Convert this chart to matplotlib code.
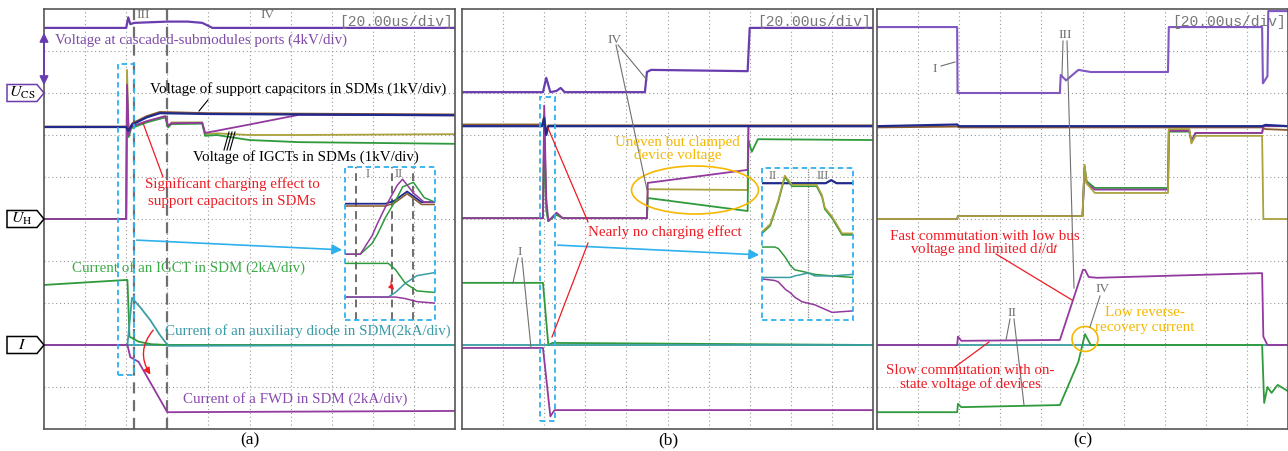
import matplotlib
matplotlib.use("Agg")
import matplotlib.pyplot as plt
from matplotlib.patches import Polygon, Rectangle, Ellipse, FancyArrowPatch
from matplotlib.lines import Line2D

plt.rcParams['font.family'] = ['Liberation Serif', 'DejaVu Serif']
plt.rcParams['mathtext.fontset'] = 'stix'

# colours
PORT = "#6a3daf"
PURPLE = "#93399f"
GREEN = "#2f9a3c"
OLIVE = "#aaa23c"
TEAL = "#3a9ea2"
NAVY = "#1f2a8c"
BROWN = "#8b5a2b"
CYAN = "#2fb0ee"
RED = "#ee1c24"
ORANGE = "#f5b800"
GRAY = "#707070"

# ---------------- data (in divisions, 10 x 10 screen) ----------------
# panel (a)
A_PORT_T = [0, 2.0, 2.05, 2.1, 2.2, 3.0, 3.5, 3.85, 4.1, 10]
A_PORT_V = [9.55, 9.55, 9.8, 9.64, 9.67, 9.7, 9.7, 9.67, 9.55, 9.55]

A_CAP_T = [0, 2.0, 2.05, 2.15, 2.5, 2.82, 4.0, 10]
A_CAP_NAVY = [7.19, 7.19, 7.1, 7.25, 7.42, 7.52, 7.5, 7.47]
A_CAP_BROWN = [7.2, 7.2, 7.12, 7.28, 7.45, 7.55, 7.52, 7.49]

A_VG_T = [0, 2.0, 2.02, 2.06, 2.12, 2.5, 2.95, 3.02, 3.1, 3.85, 3.92, 4.2, 5.0, 6.2, 10]
A_VG_PURPLE = [5.0, 5.0, 8.2, 7.0, 7.2, 7.33, 7.45, 7.22, 7.28, 7.29, 7.05, 7.1, 7.25, 7.48, 7.47]
A_VG_OLIVE = [5.0, 5.0, 8.55, 7.0, 7.18, 7.32, 7.44, 7.2, 7.3, 7.3, 7.02, 7.04, 7.0, 7.0, 7.02]
A_VG_GREEN = [5.0, 5.0, 8.0, 6.95, 7.16, 7.3, 7.42, 7.18, 7.26, 7.27, 6.98, 7.0, 6.88, 6.83, 6.79]

A_IG_T = [0, 2.03, 2.08, 2.3, 2.6, 3.0, 10]
A_IG_V = [3.43, 3.55, 2.2, 2.08, 2.02, 2.0, 2.0]
A_AUX_T = [0, 2.03, 2.14, 2.34, 2.58, 2.82, 3.02, 10]
A_AUX_V = [2.0, 2.0, 3.12, 2.9, 2.6, 2.24, 1.98, 2.0]
A_FWD_T = [0, 2.03, 2.1, 2.3, 3.0, 10]
A_FWD_V = [2.0, 2.0, 1.71, 1.6, 0.4, 0.43]

# inset (a), normalised 0..1
IA_CAP_T = [0, 0.45, 0.55, 0.69, 0.85, 1.0]
IA_CAP_V = [0.76, 0.76, 0.78, 0.84, 0.77, 0.77]
IA_VG_T = [0, 0.17, 0.3, 0.36, 0.45, 0.58, 0.64, 0.76, 0.88, 1.0]
IA_VG_PURPLE = [0.43, 0.43, 0.55, 0.63, 0.74, 0.88, 0.92, 0.83, 0.77, 0.77]
IA_VG_GREEN = [0.43, 0.43, 0.5, 0.56, 0.67, 0.8, 0.87, 0.9, 0.8, 0.77]
IA_I_T = [0, 0.48, 0.56, 0.67, 0.8, 1.0]
IA_I_GREEN = [0.37, 0.37, 0.33, 0.24, 0.19, 0.18]
IA_I_TEAL = [0.15, 0.15, 0.18, 0.24, 0.29, 0.31]
IA_I_PURPLE = [0.15, 0.15, 0.15, 0.14, 0.12, 0.11]

# panel (b)
B_PORT_T = [0, 1.97, 2.05, 2.15, 2.3, 2.4, 2.5, 4.45, 4.5, 4.6, 6.95, 7.0, 10]
B_PORT_V = [8.02, 8.02, 8.36, 8.02, 8.05, 8.12, 8.02, 8.02, 8.5, 8.55, 8.52, 9.55, 9.55]
B_CAP_T = [0, 1.95, 2.0, 2.05, 2.1, 10]
B_CAP_NAVY = [7.21, 7.21, 7.4, 7.0, 7.21, 7.21]
B_CAP_BROWN = [7.25, 7.25, 7.45, 7.05, 7.23, 7.23]
B_VG_T = [0, 1.97, 2.0, 2.05, 2.1, 2.3, 2.45, 4.5, 4.52, 6.95, 6.97, 7.05, 7.2, 10]
B_VG_PURPLE = [5.02, 5.02, 7.7, 5.5, 4.95, 5.15, 5.02, 5.02, 5.86, 6.17, 7.21, 7.21, 7.21, 7.21]
B_VG_OLIVE = [5.02, 5.02, 7.3, 5.3, 4.95, 5.12, 5.02, 5.02, 5.71, 5.69, 7.21, 7.21, 7.21, 7.21]
B_VG_GREEN = [5.02, 5.02, 7.0, 5.2, 4.95, 5.1, 5.02, 5.02, 5.5, 5.19, 6.88, 6.6, 6.9, 6.88]
B_IG_T = [0, 1.97, 2.1, 2.2, 10]
B_IG_V = [3.48, 3.48, 2.0, 2.05, 2.0]
B_FWD_T = [0, 1.97, 2.15, 2.25, 10]
B_FWD_V = [1.93, 1.93, 0.3, 0.45, 0.45]

# inset (b), normalised 0..1
IB_CAP_T = [0, 0.7, 0.76, 0.82, 1.0]
IB_CAP_V = [0.9, 0.9, 0.92, 0.9, 0.9]
IB_VG_T = [0, 0.09, 0.18, 0.25, 0.33, 0.6, 0.66, 0.69, 0.77, 0.88, 1.0]
IB_VG_V = [0.58, 0.63, 0.79, 0.95, 0.89, 0.89, 0.82, 0.74, 0.68, 0.57, 0.57]
IB_I_T = [0, 0.14, 0.18, 0.26, 0.31, 0.36, 0.44, 0.51, 0.58, 0.77, 1.0]
IB_I_GREEN = [0.48, 0.48, 0.47, 0.41, 0.36, 0.33, 0.32, 0.31, 0.3, 0.29, 0.28]
IB_I_TEAL = [0.28, 0.28, 0.28, 0.28, 0.28, 0.29, 0.3, 0.31, 0.29, 0.29, 0.3]
IB_I_PURPLE = [0.27, 0.26, 0.25, 0.2, 0.18, 0.15, 0.12, 0.11, 0.1, 0.05, 0.06]

# panel (c)
C_PORT_T = [0, 1.95, 1.96, 4.45, 4.47, 4.6, 4.9, 5.2, 7.08, 7.1, 9.37, 9.39, 9.5, 9.52, 10]
C_PORT_V = [9.57, 9.57, 8.0, 8.0, 8.43, 8.3, 8.55, 8.5, 8.5, 9.57, 9.57, 8.23, 8.4, 9.95, 9.95]
C_CAP_T = [0, 1.95, 2.0, 9.37, 9.45, 10]
C_CAP_NAVY = [7.21, 7.25, 7.21, 7.21, 7.24, 7.21]
C_CAP_BROWN = [7.18, 7.2, 7.18, 7.18, 7.14, 7.12]
C_VG_T = [0, 1.95, 1.97, 5.0, 5.05, 5.1, 5.3, 7.08, 7.1, 7.6, 7.65, 7.75, 9.37, 9.4, 10]
C_VG_PURPLE = [5.0, 5.0, 5.07, 5.07, 6.2, 5.85, 5.7, 5.7, 7.1, 7.1, 6.85, 7.05, 7.05, 7.21, 7.21]
C_VG_GREEN = [5.0, 5.0, 5.07, 5.07, 6.26, 5.9, 5.74, 5.74, 7.08, 7.08, 6.85, 7.05, 7.05, 7.21, 7.21]
C_VG_OLIVE = [5.0, 5.0, 5.07, 5.07, 6.29, 5.85, 5.62, 5.62, 7.14, 7.14, 6.8, 6.98, 6.98, 5.0, 5.0]
C_FWD_T = [0, 1.95, 1.97, 2.05, 4.45, 5.01, 5.06, 5.15, 5.35, 9.3, 9.37, 9.4, 9.5, 10]
C_FWD_V = [2.0, 2.0, 2.2, 2.1, 2.12, 3.79, 3.79, 3.62, 3.6, 3.71, 3.71, 2.2, 2.0, 2.0]
C_IG_T = [0, 1.95, 1.97, 2.05, 4.45, 4.9, 5.06, 5.2, 5.35, 9.37, 9.42, 9.5, 9.6, 9.75, 10]
C_IG_V = [0.4, 0.4, 0.6, 0.52, 0.57, 1.6, 2.26, 2.0, 2.0, 2.0, 0.62, 1.0, 0.86, 1.05, 0.9]

TEAL_T = [0, 10]
TEAL_V = [2.0, 2.0]

CAPTIONS = ["(a)", "(b)", "(c)"]
FRAME_X = [44, 462, 877]

# ---------------- figure ----------------
W, H = 1288, 451
fig = plt.figure(figsize=(W / 100, H / 100), dpi=100)


def fx(x):
    return x / W


def fy(y):
    return 1 - y / H


def ftext(x, y, s, **kw):
    kw.setdefault("ha", "left")
    kw.setdefault("va", "center")
    fig.text(fx(x), fy(y), s, **kw)


def fline(xs, ys, **kw):
    fig.add_artist(Line2D([fx(v) for v in xs], [fy(v) for v in ys], **kw))


def farrow(p0, p1, color, **kw):
    fig.add_artist(FancyArrowPatch((fx(p0[0]), fy(p0[1])), (fx(p1[0]), fy(p1[1])),
                                   transform=fig.transFigure, color=color, **kw))


axes = []
for x0 in FRAME_X:
    ax = fig.add_axes([fx(x0), fy(429), 411 / W, 420 / H])
    ax.set_xlim(0, 10)
    ax.set_ylim(0, 10)
    ax.set_xticks([])
    ax.set_yticks([])
    for s in ax.spines.values():
        s.set_color("#555555")
        s.set_linewidth(1.2)
    for k in range(1, 10):
        ax.axvline(k, color="#9a9a9a", lw=0.8, ls=(0, (1, 2.5)), zorder=0)
        ax.axhline(k, color="#9a9a9a", lw=0.8, ls=(0, (1, 2.5)), zorder=0)
    ax.text(9.95, 9.68, "[20.00us/div]", family="Liberation Mono", fontsize=10.5,
            color="#777777", ha="right", va="center", zorder=5)
    axes.append(ax)

LW = 1.3
axA, axB, axC = axes

# panel (a)
axA.plot(A_PORT_T, A_PORT_V, color=PORT, lw=LW + 0.3)
axA.plot(A_VG_T, A_VG_OLIVE, color=OLIVE, lw=LW)
axA.plot(A_VG_T, A_VG_GREEN, color=GREEN, lw=LW)
axA.plot(A_VG_T, A_VG_PURPLE, color=PURPLE, lw=LW)
axA.plot(A_CAP_T, A_CAP_BROWN, color=BROWN, lw=LW)
axA.plot(A_CAP_T, A_CAP_NAVY, color=NAVY, lw=LW + 0.3)
axA.plot(TEAL_T, TEAL_V, color=TEAL, lw=LW)
axA.plot(A_IG_T, A_IG_V, color=GREEN, lw=LW)
axA.plot(A_AUX_T, A_AUX_V, color=TEAL, lw=LW)
axA.plot(A_FWD_T, A_FWD_V, color=PURPLE, lw=LW)
for t in (2.19, 2.99):
    axA.axvline(t, color="#6e6e6e", lw=1.6, ls=(0, (5, 3)), zorder=1)

# panel (b)
axB.plot(B_PORT_T, B_PORT_V, color=PORT, lw=LW + 0.3)
axB.plot(B_CAP_T, B_CAP_BROWN, color=BROWN, lw=LW)
axB.plot(B_VG_T, B_VG_OLIVE, color=OLIVE, lw=LW)
axB.plot(B_VG_T, B_VG_GREEN, color=GREEN, lw=LW)
axB.plot(B_VG_T, B_VG_PURPLE, color=PURPLE, lw=LW)
axB.plot(B_CAP_T, B_CAP_NAVY, color=NAVY, lw=LW + 0.3)
axB.plot(B_IG_T, B_IG_V, color=GREEN, lw=LW)
axB.plot(TEAL_T, TEAL_V, color=TEAL, lw=LW)
axB.plot(B_FWD_T, B_FWD_V, color=PURPLE, lw=LW)

# panel (c)
axC.plot(C_PORT_T, C_PORT_V, color="#7e57c2", lw=LW + 0.2)
axC.plot(C_CAP_T, C_CAP_BROWN, color=BROWN, lw=LW)
axC.plot(C_VG_T, C_VG_GREEN, color=GREEN, lw=LW)
axC.plot(C_VG_T, C_VG_PURPLE, color=PURPLE, lw=LW)
axC.plot(C_VG_T, C_VG_OLIVE, color=OLIVE, lw=LW)
axC.plot(C_CAP_T, C_CAP_NAVY, color=NAVY, lw=LW + 0.3)
axC.plot(TEAL_T, TEAL_V, color=TEAL, lw=LW)
axC.plot(C_IG_T, C_IG_V, color=GREEN, lw=LW)
axC.plot(C_FWD_T, C_FWD_V, color=PURPLE, lw=LW)


# insets
def make_inset(ax, x0, box):
    bx0, by0, bx1, by1 = box
    t0, t1 = (bx0 - x0) / 41.1, (bx1 - x0) / 41.1
    v0, v1 = (429 - by1) / 42, (429 - by0) / 42
    ins = ax.inset_axes([t0, v0, t1 - t0, v1 - v0], transform=ax.transData)
    ins.set_xlim(0, 1)
    ins.set_ylim(0, 1)
    ins.axis("off")
    ins.patch.set_alpha(0)
    return ins


insA = make_inset(axA, 44, (345, 167, 435, 320))
for u in (0.12, 0.52, 0.75):
    insA.axvline(u, color="#6e6e6e", lw=1.4, ls=(0, (4, 2.5)))
insA.plot(IA_CAP_T, [v - 0.015 for v in IA_CAP_V], color=BROWN, lw=1.1)
insA.plot(IA_CAP_T, IA_CAP_V, color=NAVY, lw=1.3)
insA.plot(IA_VG_T, IA_VG_GREEN, color=GREEN, lw=1.1)
insA.plot(IA_VG_T, IA_VG_PURPLE, color=PURPLE, lw=1.1)
insA.plot(IA_I_T, IA_I_GREEN, color=GREEN, lw=1.1)
insA.plot(IA_I_T, IA_I_TEAL, color=TEAL, lw=1.1)
insA.plot(IA_I_T, IA_I_PURPLE, color=PURPLE, lw=1.1)

insB = make_inset(axB, 462, (762, 168, 853, 320))
insB.axvline(0.5, color="#888888", lw=0.9, ls=(0, (1, 1)))
insB.plot(IB_CAP_T, IB_CAP_V, color=NAVY, lw=1.6)
insB.plot(IB_VG_T, [v - 0.01 for v in IB_VG_V], color=GREEN, lw=1.2)
insB.plot(IB_VG_T, IB_VG_V, color=OLIVE, lw=1.2)
insB.plot(IB_I_T, IB_I_GREEN, color=GREEN, lw=1.1)
insB.plot(IB_I_T, IB_I_TEAL, color=TEAL, lw=1.1)
insB.plot(IB_I_T, IB_I_PURPLE, color=PURPLE, lw=1.1)

# dashed cyan boxes
for (x0, y0, x1, y1) in [(118, 64, 134, 375), (345, 167, 435, 320),
                         (540, 97, 555, 421), (762, 168, 853, 320)]:
    fig.add_artist(Rectangle((fx(x0), fy(y1)), fx(x1) - fx(x0), fy(y0) - fy(y1),
                             transform=fig.transFigure, fill=False, ec=CYAN,
                             lw=1.3, ls=(0, (3, 2))))

farrow((134, 240), (345, 250), CYAN, arrowstyle="-|>,head_length=6,head_width=3", lw=1.2)
farrow((555, 245), (762, 255), CYAN, arrowstyle="-|>,head_length=6,head_width=3", lw=1.2)

# left markers
for y, lab, col in [(93, r"$U_{\rm CS}$", PORT), (219, r"$U_{\rm H}$", "black"),
                    (345, r"$I$", "black")]:
    pts = [(7, y - 8.5), (37, y - 8.5), (44, y), (37, y + 8.5), (7, y + 8.5)]
    fig.add_artist(Polygon([(fx(a), fy(b)) for a, b in pts], closed=True,
                           transform=fig.transFigure, fill=True, fc="white",
                           ec=col, lw=1.1))
    ftext(22, y, lab, ha="center", fontsize=11.5)
fig.add_artist(FancyArrowPatch((fx(44), fy(88)), (fx(44), fy(30)), transform=fig.transFigure,
                               arrowstyle="<|-|>,head_length=5,head_width=2.5",
                               color=PORT, lw=1.4))

FS = 10.8
RN = 9.5
# panel (a) texts
ftext(55, 40, "Voltage at cascaded-submodules ports (4kV/div)", color="#7e4ba8", fontsize=FS)
ftext(150, 89, "Voltage of support capacitors in SDMs (1kV/div)", color="black", fontsize=FS)
ftext(193, 157, "Voltage of IGCTs in SDMs (1kV/div)", color="black", fontsize=FS)
ftext(232, 184, "Significant charging effect to", color=RED, fontsize=FS, ha="center")
ftext(232, 201, "support capacitors in SDMs", color=RED, fontsize=FS, ha="center")
ftext(72, 268, "Current of an IGCT in SDM (2kA/div)", color="#3aaa48", fontsize=FS)
ftext(165, 331, "Current of an auxiliary diode in SDM(2kA/div)", color="#3a9aa6", fontsize=FS)
ftext(183, 399, "Current of a FWD in SDM (2kA/div)", color="#8a4bb0", fontsize=FS)
ftext(143, 15, "III", color=GRAY, fontsize=RN, ha="center")
ftext(268, 15, "IV", color=GRAY, fontsize=RN, ha="center")
ftext(366, 174, "I", color=GRAY, fontsize=RN - 0.5)
ftext(395, 174, "II", color=GRAY, fontsize=RN - 0.5)
fline([199, 208], [111, 100], color="black", lw=0.8)
for d in (0, 3, 6):
    fline([224 + d, 229 + d], [150, 132], color="black", lw=0.8)
fline([143, 163], [123, 177], color=RED, lw=0.9)
farrow((155, 328), (152, 377), RED, arrowstyle="-|>,head_length=4,head_width=2",
       lw=1.0, connectionstyle="arc3,rad=0.4")
farrow((393, 276), (396, 292), RED, arrowstyle="-|>,head_length=3,head_width=1.5",
       lw=0.9, connectionstyle="arc3,rad=0.4")

# panel (b) texts
ftext(615, 40, "IV", color=GRAY, fontsize=RN, ha="center")
fline([618, 647], [45, 80], color=GRAY, lw=0.8)
fline([616, 647], [45, 190], color=GRAY, lw=0.8)
ftext(520, 252, "I", color=GRAY, fontsize=RN, ha="center")
fline([518, 513], [258, 283], color=GRAY, lw=0.8)
fline([522, 531], [258, 348], color=GRAY, lw=0.8)
ftext(677, 142, "Uneven but clamped", color=ORANGE, fontsize=FS, ha="center")
ftext(678, 156, "device voltage", color=ORANGE, fontsize=FS, ha="center")
fig.add_artist(Ellipse((fx(695), fy(190)), 127 / W, 48 / H, transform=fig.transFigure,
                       fill=False, ec=ORANGE, lw=1.2))
ftext(665, 232, "Nearly no charging effect", color=RED, fontsize=FS, ha="center")
fline([588, 548], [222, 128], color=RED, lw=0.9)
fline([588, 552], [243, 337], color=RED, lw=0.9)
ftext(769, 176, "II", color=GRAY, fontsize=RN - 0.5)
ftext(817, 176, "III", color=GRAY, fontsize=RN - 0.5)

# panel (c) texts
ftext(935, 69, "I", color=GRAY, fontsize=RN, ha="center")
fline([941, 955], [66, 62], color=GRAY, lw=0.8)
ftext(1065, 35, "III", color=GRAY, fontsize=RN, ha="center")
fline([1063, 1062], [41, 75], color=GRAY, lw=0.8)
fline([1067, 1074], [41, 288], color=GRAY, lw=0.8)
ftext(1012, 313, "II", color=GRAY, fontsize=RN, ha="center")
fline([1010, 1006], [319, 340], color=GRAY, lw=0.8)
fline([1014, 1024], [319, 405], color=GRAY, lw=0.8)
ftext(1103, 289, "IV", color=GRAY, fontsize=RN, ha="center")
fline([1100, 1090], [296, 327], color=GRAY, lw=0.8)
ftext(985, 236, "Fast commutation with low bus", color=RED, fontsize=FS, ha="center")
ftext(985, 249, r"voltage and limited d$i$/d$t$", color=RED, fontsize=FS, ha="center")
fline([996, 1072], [254, 300], color=RED, lw=0.9)
ftext(970, 371, "Slow commutation with on-", color=RED, fontsize=FS, ha="center")
ftext(970, 384, "state voltage of devices", color=RED, fontsize=FS, ha="center")
fline([955, 989], [367, 342], color=RED, lw=0.9)
ftext(1145, 313, "Low reverse-", color=ORANGE, fontsize=FS, ha="center")
ftext(1145, 327, "recovery current", color=ORANGE, fontsize=FS, ha="center")
fig.add_artist(Ellipse((fx(1085), fy(339)), 26 / W, 25 / H, transform=fig.transFigure,
                       fill=False, ec=ORANGE, lw=1.2))

for x0, cap in zip(FRAME_X, CAPTIONS):
    ftext(x0 + 206, 440, cap, ha="center", fontsize=12.5)

fig.savefig("out.png", dpi=100, facecolor="white")
